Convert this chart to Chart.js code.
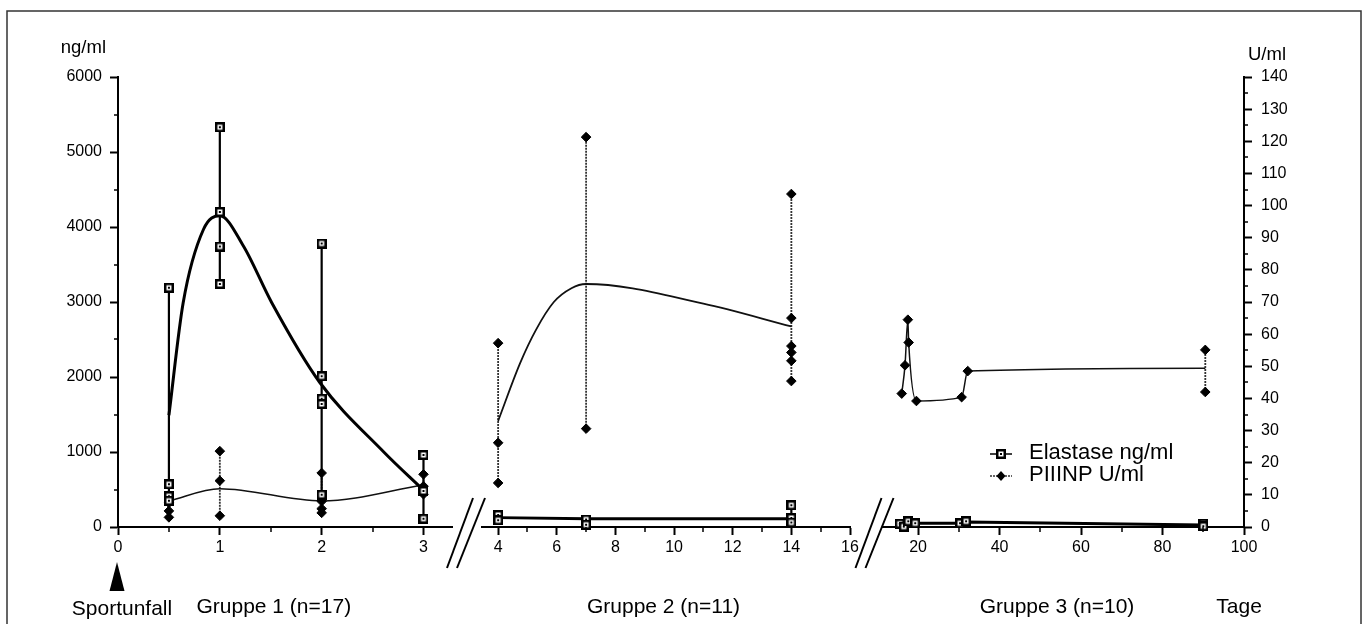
<!DOCTYPE html>
<html><head><meta charset="utf-8">
<script src="https://cdn.jsdelivr.net/npm/chart.js@4.4.1/dist/chart.umd.min.js"></script>
<style>html,body{margin:0;padding:0;background:#fff;}canvas{display:block;}</style>
</head><body>
<canvas id="c" width="1369" height="624"></canvas>
<script>
// ---------------- DATA ----------------
// Gruppe 1 (Tage 0.5 .. 3)
const g1Days = [0.5, 1, 2, 3];
const g1Elastase = [[3190, 570, 410, 350], [5330, 4200, 3740, 3240], [3780, 2010, 1710, 1640, 430], [960, 480, 110]];
const g1ElastaseCurveDays = [0.5, 0.64, 0.84, 1, 1.23, 1.51, 1.98, 2.61, 3];
const g1ElastaseCurve = [1490, 2990, 3970, 4150, 3750, 2990, 1930, 1000, 490];
const g1Piiinp = [[7.5, 5, 3], [23.6, 14.4, 3.5], [16.8, 8, 5.7, 4.4], [16.4, 12.7, 10.2]];
const g1PiiinpMean = [8.1, 11.9, 8.1, 13.1];

// Gruppe 2 (Tage 4 .. 14)
const g2Days = [4, 7, 14];
const g2Elastase = [[160, 90], [100, 30], [290, 120, 60]];
const g2ElastaseMean = [125, 110, 110];
const g2Piiinp = [[57.2, 26.2, 13.7], [121.3, 30.6], [103.6, 65, 56.3, 54.3, 51.7, 45.4]];
const g2PiiinpCurveDays = [4, 4.75, 5.3, 5.9, 6.5, 7, 11, 14];
const g2PiiinpCurve = [33, 51, 61.5, 70, 74.3, 75.6, 69.5, 62.4];

// Gruppe 3 (Tage 15 .. 91)
const g3ElastaseDays = [15.5, 16.5, 17.6, 19.3, 30.3, 31.8, 90, 90];
const g3Elastase = [44, 5, 76, 50, 50, 76, 44, 10];
const g3ElastaseLineDays = [15.5, 17.6, 19.3, 30.3, 31.8, 90];
const g3ElastaseLine = [44, 60, 50, 50, 66, 27];
const g3PiiinpDays = [16, 16.8, 17.5, 17.7, 19.6, 30.7, 32.2, 90.5, 90.5];
const g3Piiinp = [41.5, 50.3, 64.5, 57.4, 39.2, 40.4, 48.5, 55.1, 42];
const g3PiiinpLineDays = [16, 16.8, 17.5, 17.7, 19.6, 30.7, 32.2, 90.5];
const g3PiiinpLine = [41.5, 50.3, 64.5, 57.4, 39.2, 40.4, 48.5, 49.4];

// Ticks
const x1Ticks = [0, 1, 2, 3];
const x1Minor = [0.5, 1.5, 2.5];
const x2Ticks = [4, 6, 8, 10, 12, 14, 16];
const x2Minor = [5, 7, 9, 11, 13, 15];
const x3Ticks = [20, 40, 60, 80, 100];
const x3Minor = [30, 50, 70, 90];
const yLTicks = [0, 1000, 2000, 3000, 4000, 5000, 6000];
const yLMinor = [500, 1500, 2500, 3500, 4500, 5500];
const yRTicks = [0, 10, 20, 30, 40, 50, 60, 70, 80, 90, 100, 110, 120, 130, 140];
const yRMinor = [5, 15, 25, 35, 45, 55, 65, 75, 85, 95, 105, 115, 125, 135];

const groupLabels = ['Gruppe 1 (n=17)', 'Gruppe 2 (n=11)', 'Gruppe 3 (n=10)'];
const legendLabels = ['Elastase ng/ml', 'PIIINP U/ml'];
const leftUnit = 'ng/ml', rightUnit = 'U/ml', eventLabel = 'Sportunfall', dayLabel = 'Tage';

// ---------------- HELPERS ----------------
function flatPoints(days, nested) { const o = []; days.forEach((d, i) => nested[i].forEach(v => o.push({x: d, y: v}))); return o; }
function pairPoints(days, vals) { return days.map((d, i) => ({x: d, y: vals[i]})); }
function groupByDay(days, vals) { const m = new Map(); days.forEach((d, i) => { if (!m.has(d)) m.set(d, []); m.get(d).push(vals[i]); }); return {days: [...m.keys()], nested: [...m.values()]}; }
function rangeSegments(days, nested) { const o = []; days.forEach((d, i) => { const a = nested[i]; if (a.length < 2) return; o.push({x: d, y: Math.min(...a)}, {x: d, y: Math.max(...a)}, {x: d, y: null}); }); return o; }

// square marker with centre dot
const sq = document.createElement('canvas'); sq.width = 10; sq.height = 10;
(function(){ const s = sq.getContext('2d'); s.fillStyle = '#000'; s.fillRect(0,0,10,10); s.fillStyle = '#fff'; s.fillRect(2.5,2.5,5,5); s.fillStyle = '#000'; s.fillRect(4,4,2,2); })();

const elaMarker = {showLine: false, pointStyle: sq, pointRadius: 5, yAxisID: 'yL'};
const piiMarker = {showLine: false, pointStyle: 'rectRot', pointRadius: 4.8, pointBackgroundColor: '#000', pointBorderColor: '#000', pointBorderWidth: 1, yAxisID: 'yR'};
const elaRange = {pointRadius: 0, borderColor: '#000', borderWidth: 2.2, yAxisID: 'yL', spanGaps: false};
const piiRange = {pointRadius: 0, borderColor: '#333', borderWidth: 1.8, borderDash: [2, 1], yAxisID: 'yR', spanGaps: false};
const elaMean = {pointRadius: 0, borderColor: '#000', borderWidth: 3, yAxisID: 'yL', cubicInterpolationMode: 'monotone'};
const piiMean = {pointRadius: 0, borderColor: '#111', borderWidth: 1.5, yAxisID: 'yR', cubicInterpolationMode: 'monotone'};

const g3E = groupByDay(g3ElastaseDays, g3Elastase);
const g3P = groupByDay(g3PiiinpDays, g3Piiinp);

const datasets = [
  // markers (drawn on top)
  {...elaMarker, xAxisID: 'x1', data: flatPoints(g1Days, g1Elastase)},
  {...piiMarker, xAxisID: 'x1', data: flatPoints(g1Days, g1Piiinp)},
  {...elaMarker, xAxisID: 'x2', data: flatPoints(g2Days, g2Elastase)},
  {...piiMarker, xAxisID: 'x2', data: flatPoints(g2Days, g2Piiinp)},
  {...elaMarker, xAxisID: 'x3', data: pairPoints(g3ElastaseDays, g3Elastase)},
  {...piiMarker, xAxisID: 'x3', data: pairPoints(g3PiiinpDays, g3Piiinp)},
  // mean curves
  {...elaMean, xAxisID: 'x1', data: pairPoints(g1ElastaseCurveDays, g1ElastaseCurve)},
  {...piiMean, xAxisID: 'x1', data: pairPoints(g1Days, g1PiiinpMean)},
  {...elaMean, cubicInterpolationMode: 'default', tension: 0, xAxisID: 'x2', data: pairPoints(g2Days, g2ElastaseMean)},
  {...piiMean, borderWidth: 1.8, xAxisID: 'x2', data: pairPoints(g2PiiinpCurveDays, g2PiiinpCurve)},
  {...elaMean, cubicInterpolationMode: 'default', tension: 0, xAxisID: 'x3', data: pairPoints(g3ElastaseLineDays, g3ElastaseLine)},
  {...piiMean, xAxisID: 'x3', data: pairPoints(g3PiiinpLineDays, g3PiiinpLine)},
  // ranges
  {...elaRange, xAxisID: 'x1', data: rangeSegments(g1Days, g1Elastase)},
  {...piiRange, xAxisID: 'x1', data: rangeSegments(g1Days, g1Piiinp)},
  {...elaRange, xAxisID: 'x2', data: rangeSegments(g2Days, g2Elastase)},
  {...piiRange, xAxisID: 'x2', data: rangeSegments(g2Days, g2Piiinp)},
  {...elaRange, xAxisID: 'x3', data: rangeSegments(g3E.days, g3E.nested)},
  {...piiRange, xAxisID: 'x3', data: rangeSegments(g3P.days, g3P.nested)}
].map(d => Object.assign({clip: false, fill: false}, d));

// ---------------- SCALES ----------------
const FONT = "'Liberation Sans', Arial, Helvetica, sans-serif";
Chart.defaults.font.family = FONT;
Chart.defaults.color = '#000';

function xAxis(ticks, min, max, weight) {
  return {
    type: 'linear', position: 'bottom', stack: 'tage', stackWeight: weight, min: min, max: max,
    border: {display: true, color: '#000', width: 2},
    grid: {display: true, drawOnChartArea: false, drawTicks: true, tickLength: 8, tickColor: '#000', tickWidth: 2},
    ticks: {autoSkip: false, maxRotation: 0, minRotation: 0, padding: 3, color: '#000', font: {size: 16}, callback: v => String(v)},
    afterBuildTicks: s => { s.ticks = ticks.map(v => ({value: v})); },
    afterFit: s => { s.height = 97; }
  };
}
function gapAxis(weight) {
  return {type: 'linear', position: 'bottom', stack: 'tage', stackWeight: weight, min: 0, max: 1,
    border: {display: false}, grid: {display: false}, ticks: {display: false},
    afterFit: s => { s.height = 97; }};
}
function yAxis(pos, ticks, max, width, pad) {
  return {
    type: 'linear', position: pos, min: 0, max: max,
    border: {display: true, color: '#000', width: 2},
    grid: {display: true, drawOnChartArea: false, drawTicks: true, tickLength: 8, tickColor: '#000', tickWidth: 2},
    ticks: {padding: pad, color: '#000', font: {size: 16}, callback: v => String(v)},
    afterBuildTicks: s => { s.ticks = ticks.map(v => ({value: v})); },
    afterFit: s => { s.width = width; }
  };
}

const minorTicks = {x1: x1Minor, x2: x2Minor, x3: x3Minor, yL: yLMinor, yR: yRMinor};

const decor = {
  id: 'decor',
  afterDraw(chart) {
    const ctx = chart.ctx, ca = chart.chartArea, S = chart.scales;
    ctx.save();
    // frame
    ctx.strokeStyle = '#333'; ctx.lineWidth = 1.5;
    ctx.strokeRect(7, 11, 1354, 640);
    // minor ticks
    ctx.strokeStyle = '#000'; ctx.lineWidth = 1.5;
    ['x1', 'x2', 'x3'].forEach(id => {
      const s = S[id];
      minorTicks[id].forEach(v => { const px = Math.round(s.getPixelForValue(v)); ctx.beginPath(); ctx.moveTo(px, s.top); ctx.lineTo(px, s.top + 5); ctx.stroke(); });
    });
    yLMinor.forEach(v => { const py = Math.round(S.yL.getPixelForValue(v)); ctx.beginPath(); ctx.moveTo(S.yL.right, py); ctx.lineTo(S.yL.right - 4, py); ctx.stroke(); });
    yRMinor.forEach(v => { const py = Math.round(S.yR.getPixelForValue(v)); ctx.beginPath(); ctx.moveTo(S.yR.left, py); ctx.lineTo(S.yR.left + 4, py); ctx.stroke(); });
    // break marks
    ctx.lineWidth = 2;
    [['xg1', 0], ['xg2', 9]].forEach(([id, sh]) => {
      const s = S[id], cx = (s.left + s.right) / 2 + sh, y0 = s.top;
      [[6, -20], [18, -10]].forEach(([t, b]) => { ctx.beginPath(); ctx.moveTo(cx + t, y0 - 29); ctx.lineTo(cx + b, y0 + 41); ctx.stroke(); });
    });
    // unit labels
    ctx.fillStyle = '#000';
    ctx.font = '18.5px ' + FONT; ctx.textBaseline = 'alphabetic';
    ctx.textAlign = 'right'; ctx.fillText(leftUnit, S.yL.right - 12, ca.top - 24);
    ctx.textAlign = 'left'; ctx.fillText(rightUnit, S.yR.left + 4, ca.top - 17);
    // arrow
    const ax = S.x1.getPixelForValue(0);
    ctx.beginPath(); ctx.moveTo(ax - 1, 562); ctx.lineTo(ax + 6.5, 591); ctx.lineTo(ax - 8.5, 591); ctx.closePath(); ctx.fill();
    // bottom labels
    ctx.font = '21px ' + FONT; ctx.textAlign = 'center';
    ctx.fillText(eventLabel, ax + 4, 615);
    ctx.fillText(groupLabels[0], S.x1.getPixelForValue(1.53), 613);
    ctx.fillText(groupLabels[1], S.x2.getPixelForValue(9.64), 613);
    ctx.fillText(groupLabels[2], S.x3.getPixelForValue(54.1), 613);
    ctx.fillText(dayLabel, S.x3.getPixelForValue(98.8), 613);
    // legend
    const lx = ca.right - 243, r1 = ca.bottom - 73, r2 = ca.bottom - 51;
    ctx.lineWidth = 1.5; ctx.strokeStyle = '#000';
    ctx.beginPath(); ctx.moveTo(lx - 11, r1); ctx.lineTo(lx + 11, r1); ctx.stroke();
    ctx.drawImage(sq, Math.round(lx - 5), Math.round(r1 - 5));
    ctx.setLineDash([2, 1]); ctx.strokeStyle = '#333';
    ctx.beginPath(); ctx.moveTo(lx - 11, r2); ctx.lineTo(lx + 11, r2); ctx.stroke();
    ctx.setLineDash([]);
    ctx.fillStyle = '#000';
    ctx.beginPath(); ctx.moveTo(lx, r2 - 5); ctx.lineTo(lx + 4.5, r2); ctx.lineTo(lx, r2 + 5); ctx.lineTo(lx - 4.5, r2); ctx.closePath(); ctx.fill();
    ctx.font = '22px ' + FONT; ctx.textAlign = 'left'; ctx.textBaseline = 'middle';
    ctx.fillText(legendLabels[0], lx + 28, r1 - 1);
    ctx.fillText(legendLabels[1], lx + 28, r2 - 1);
    ctx.restore();
  }
};

new Chart(document.getElementById('c'), {
  type: 'line',
  data: {datasets: datasets},
  options: {
    responsive: false, animation: false, events: [],
    layout: {padding: {top: 77, left: 0, right: 0, bottom: 0}},
    plugins: {legend: {display: false}, tooltip: {enabled: false}},
    scales: {
      yL: yAxis('left', yLTicks, 6000, 118, 8),
      yR: yAxis('right', yRTicks, 140, 125, 9),
      x1: xAxis(x1Ticks, 0, 3.28, 334),
      xg1: gapAxis(30),
      x2: xAxis(x2Ticks, 3.45, 16, 368),
      xg2: gapAxis(33),
      x3: xAxis(x3Ticks, 11.4, 100, 361)
    }
  },
  plugins: [decor]
});
</script>
</body></html>
